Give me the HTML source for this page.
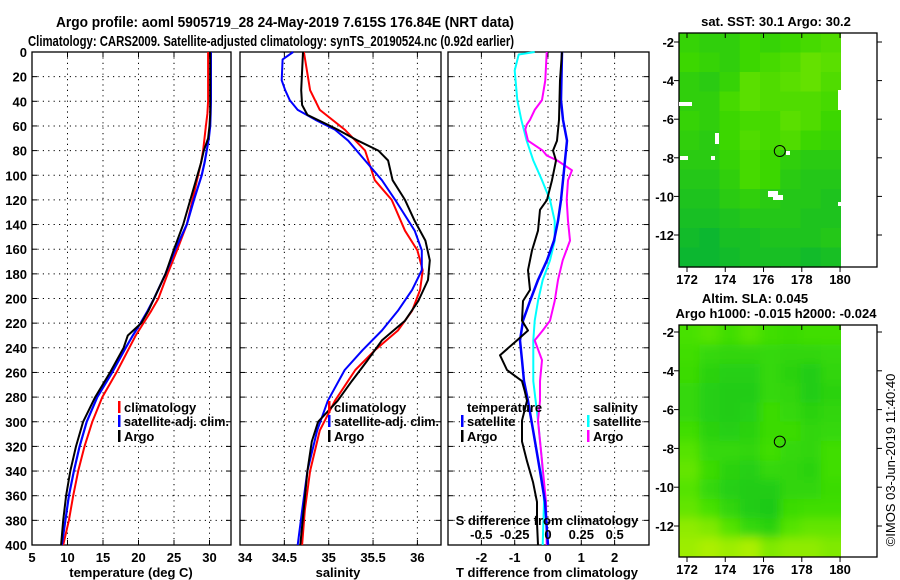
<!DOCTYPE html>
<html><head><meta charset="utf-8">
<style>
html,body{margin:0;padding:0;background:#fff;}
svg{display:block;font-family:"Liberation Sans",Arial,sans-serif;font-weight:bold;}
</style></head>
<body>
<svg id="fig" width="900" height="580" viewBox="0 0 900 580" xmlns="http://www.w3.org/2000/svg">
<text x="285" y="27" font-size="14.5" text-anchor="middle" textLength="458" lengthAdjust="spacingAndGlyphs">Argo profile: aoml 5905719_28 24-May-2019 7.615S 176.84E (NRT data)</text>
<text x="271" y="46" font-size="15" text-anchor="middle" textLength="486" lengthAdjust="spacingAndGlyphs">Climatology: CARS2009. Satellite-adjusted climatology: synTS_20190524.nc (0.92d earlier)</text>
<g id="maps"></g>
<g id="panels"></g>
</svg>
<script>
// ---------- data ----------
const tDepths = [0,10,20,30,40,50,60,70,80,90,100,120,140,160,180,200,210,220,230,240,260,280,300,320,340,360,380,400];
const tempClim = [29.8,29.8,29.8,29.8,29.8,29.7,29.5,29.3,29.1,28.8,28.4,27.6,26.8,25.5,24.1,22.8,21.8,20.7,19.6,18.7,16.9,14.9,13.5,12.4,11.5,10.8,10.2,9.4];
const tempSat = [30.2,30.2,30.2,30.2,30.2,30.15,30.1,29.9,29.6,29.3,28.9,27.8,26.8,25.2,23.8,22.2,21.3,20.3,19.2,18.2,16.3,14.2,12.7,11.7,10.9,10.2,9.7,9.2];
const tempArgo = [30.1,30.1,30.1,30.1,30.1,30.1,30.0,29.8,29.2,28.8,28.3,27.3,26.3,25.0,23.8,22.2,21.4,20.4,18.5,17.9,16.0,13.9,12.2,11.2,10.4,9.8,9.4,9.1];

const sClimDepths = [0,31,47,63,80,104,120,145,161,177,193,210,226,242,258,283,307,340,372,400];
const salClim = [34.72,34.79,34.90,35.18,35.41,35.52,35.71,35.86,36.0,36.06,36.03,35.94,35.78,35.52,35.30,35.07,34.90,34.79,34.73,34.70];
const sSatDepths = [0,6,23,31,39,47,55,63,72,88,104,120,145,161,177,193,210,226,242,258,283,307,340,372,400];
const salSat = [34.6,34.48,34.47,34.51,34.56,34.65,34.85,35.07,35.22,35.41,35.60,35.75,35.97,36.05,36.05,35.94,35.78,35.60,35.38,35.18,34.99,34.87,34.76,34.70,34.65];
const sArgoDepths = [0,31,43,51,58,63,72,80,88,104,120,137,153,169,185,202,218,234,250,267,283,300,316,340,400];
const salArgo = [34.71,34.69,34.70,34.76,34.96,35.1,35.33,35.56,35.67,35.72,35.86,35.97,36.09,36.14,36.12,36.01,35.86,35.6,35.44,35.26,35.10,34.88,34.81,34.76,34.68];

const dTSatDepths = [0,39,55,72,80,104,120,137,153,169,185,202,218,234,250,267,283,316,340,365,389,400];
const dTSat = [0.42,0.39,0.45,0.57,0.54,0.45,0.39,0.3,0.18,-0.03,-0.3,-0.54,-0.75,-0.84,-0.78,-0.72,-0.6,-0.39,-0.24,-0.09,-0.03,0];
const dTArgoDepths = [0,23,55,72,80,88,104,120,128,145,161,177,193,202,218,226,234,246,258,267,275,283,299,316,332,349,365,382,400];
const dTArgo = [0.42,0.36,0.33,0.27,0.15,0.24,0.12,-0.03,-0.24,-0.3,-0.48,-0.6,-0.54,-0.75,-0.78,-0.6,-0.93,-1.44,-1.23,-0.78,-0.7,-0.63,-0.78,-0.78,-0.63,-0.45,-0.33,-0.33,-0.3];
const dSSatDepths = [0,2,15,39,55,72,88,104,120,137,153,169,185,202,218,234,267,299,332,365,400];
const dSSat = [-0.1,-0.22,-0.25,-0.23,-0.2,-0.16,-0.11,-0.045,0.015,0.05,0.05,0.015,-0.04,-0.075,-0.1,-0.11,-0.11,-0.075,-0.045,-0.03,-0.04];
const dSArgoDepths = [0,23,39,47,55,59,63,72,80,84,88,96,104,120,137,153,169,185,202,218,226,234,250,267,283,299,332,365,400];
const dSArgo = [-0.01,-0.02,-0.045,-0.1,-0.135,-0.16,-0.17,-0.15,-0.04,-0.01,0.07,0.18,0.15,0.14,0.15,0.165,0.11,0.075,0.05,0.015,-0.04,-0.1,-0.045,-0.06,-0.06,-0.075,-0.045,-0.015,-0.01];

const depthTicks = [0,20,40,60,80,100,120,140,160,180,200,220,240,260,280,300,320,340,360,380,400];
const tempTicks = [5,10,15,20,25,30];
const salTicks = [34.5,35,35.5,36];
const salTickLabels = ["34","34.5","35","35.5","36"];
const dTTicks = [-2,-1,0,1,2];
const dSTickLabels = ["-0.5","-0.25","0","0.25","0.5"];
const dSTicks = [-0.5,-0.25,0,0.25,0.5];

const sstGrid = [
[.45,.4,.4,.5,.45,.5,.55,.6],
[.5,.45,.4,.5,.55,.6,.7,.65],
[.4,.35,.45,.65,.6,.65,.7,.6],
[.4,.4,.55,.65,.6,.6,.6,.55],
[.45,.4,.5,.55,.55,.65,.6,.5],
[.4,.35,.5,.6,.55,.6,.5,.45],
[.35,.35,.45,.55,.5,.4,.35,.35],
[.3,.3,.4,.55,.5,.35,.3,.3],
[.25,.25,.35,.4,.35,.3,.3,.25],
[.2,.2,.25,.3,.3,.3,.25,.25],
[.15,.1,.2,.2,.25,.25,.25,.3],
[.1,.1,.15,.2,.2,.2,.15,.2]];
const slaGrid = [
[.5,.55,.45,.55,.45,.4,.45,.45],
[.45,.35,.3,.3,.35,.3,.3,.35],
[.4,.25,.2,.2,.35,.25,.15,.3],
[.35,.2,.15,.15,.35,.3,.15,.25],
[.35,.2,.15,.2,.4,.35,.25,.3],
[.45,.25,.2,.25,.4,.4,.3,.35],
[.55,.35,.35,.3,.45,.35,.3,.45],
[.6,.4,.25,.2,.35,.3,.25,.45],
[.55,.35,.2,.15,.15,.3,.3,.4],
[.6,.5,.3,.15,.1,.4,.45,.45],
[.75,.7,.55,.35,.25,.55,.6,.6],
[.8,.85,.8,.85,.7,.75,.75,.7]];
const lonTicks = [172,174,176,178,180];
const latTicks = [-2,-4,-6,-8,-10,-12];
const floatLon = 176.85, floatLat = -7.65;

// ---------- helpers ----------
const NS = "http://www.w3.org/2000/svg";
function mk(tag, attrs, parent){ const e=document.createElementNS(NS,tag); for(const k in attrs) e.setAttribute(k,attrs[k]); parent.appendChild(e); return e; }
const P = document.getElementById('panels');
const M = document.getElementById('maps');
const yD = d => 52 + d*1.2325;
const Y0=52, Y1=545;

function frame(x0,x1,name){
  for(const d of depthTicks.slice(1,-1)){
    const l=mk('line',{x1:x0,x2:x1,y1:yD(d),y2:yD(d),stroke:'#000','stroke-width':1,'stroke-dasharray':'1.2,4.2'},P);
    
    
    mk('line',{x1:x0,x2:x0+5,y1:yD(d),y2:yD(d),stroke:'#000'},P);
    mk('line',{x1:x1-5,x2:x1,y1:yD(d),y2:yD(d),stroke:'#000'},P);
  }
  const r=mk('rect',{x:x0,y:Y0,width:x1-x0,height:Y1-Y0,fill:'none',stroke:'#000','stroke-width':1.3},P);
  
  
}
function vgrid(xs){
  for(const x of xs){
    mk('line',{x1:x,x2:x,y1:Y0,y2:Y1,stroke:'#000','stroke-width':1,'stroke-dasharray':'1.2,4.2'},P);
    mk('line',{x1:x,x2:x,y1:Y0,y2:Y0+5,stroke:'#000'},P);
    mk('line',{x1:x,x2:x,y1:Y1-5,y2:Y1,stroke:'#000'},P);
  }
}
function line(depths, vals, xf, color, w, name){
  const pts = depths.map((d,i)=>xf(vals[i]).toFixed(1)+','+yD(d).toFixed(1)).join(' ');
  const p=mk('polyline',{points:pts,fill:'none',stroke:color,'stroke-width':w,'stroke-linejoin':'round'},P);
  
  
}
function txt(x,y,s,size,anchor,name,parent){
  const t=mk('text',{x:x,y:y,'font-size':size,'text-anchor':anchor||'middle'},parent||P);
  t.textContent=s;
  
  
  return t;
}
function legend(x,y,color,label,name,len){
  mk('rect',{x:x,y:y-11,width:2.5,height:12,fill:color},P);
  const t=txt(x+6,y,label,13,'start',name);
  if(len){ t.setAttribute('textLength',len); t.setAttribute('lengthAdjust','spacingAndGlyphs'); }
}

// ---------- panel 1: temperature ----------
const xT = v => 32 + (v-5)*7.1;
frame(32,231,'temperature-panel');
vgrid(tempTicks.slice(1).map(xT));
line(tDepths,tempClim,xT,'#ff0000',2,'temp-climatology-line');
line(tDepths,tempSat,xT,'#0000ff',2.2,'temp-satellite-line');
line(tDepths,tempArgo,xT,'#000000',2,'temp-argo-line');
for(const d of depthTicks){ txt(27,yD(d)+5,String(d),13,'end','depth-tick-label'); }
for(const v of tempTicks){ txt(xT(v),562,String(v),13,'middle','temp-tick-label'); }
txt(131,577,'temperature (deg C)',13,'middle','temp-axis-title');
legend(118,412,'#ff0000','climatology','legend-climatology');
legend(118,426,'#0000ff','satellite-adj. clim.','legend-satellite',105);
legend(118,441,'#000000','Argo','legend-argo');

// ---------- panel 2: salinity ----------
const xS = v => 240 + (v-34)*88.7;
frame(240,441,'salinity-panel');
vgrid(salTicks.map(xS));
line(sClimDepths,salClim,xS,'#ff0000',2,'sal-climatology-line');
line(sSatDepths,salSat,xS,'#0000ff',2,'sal-satellite-line');
line(sArgoDepths,salArgo,xS,'#000000',2,'sal-argo-line');
[34].concat(salTicks).forEach((v,i)=>txt(i===0?245:xS(v),562,salTickLabels[i],13,'middle','sal-tick-label'));
txt(338,577,'salinity',13,'middle','sal-axis-title');
legend(328,412,'#ff0000','climatology','legend-climatology-2');
legend(328,426,'#0000ff','satellite-adj. clim.','legend-satellite-2',105);
legend(328,441,'#000000','Argo','legend-argo-2');

// ---------- panel 3: differences ----------
const xDT = v => 548 + v*33.3;
const xDS = v => 548 + v*133.3;
frame(448,649,'difference-panel');
vgrid(dTTicks.map(xDT));
line(dSSatDepths,dSSat,xDS,'#00ffff',2,'sal-diff-satellite-line');
line(dSArgoDepths,dSArgo,xDS,'#ff00ff',2,'sal-diff-argo-line');
line(dTSatDepths,dTSat,xDT,'#0000ff',2.5,'temp-diff-satellite-line');
line(dTArgoDepths,dTArgo,xDT,'#000000',2,'temp-diff-argo-line');
dTTicks.forEach(v=>txt(xDT(v),562,String(v),13,'middle','tdiff-tick-label'));
txt(547,577,'T difference from climatology',13,'middle','tdiff-axis-title');
dSTicks.forEach((v,i)=>txt(xDS(v),539,dSTickLabels[i],13,'middle','sdiff-tick-label'));
txt(547,525,'S difference from climatology',13,'middle','sdiff-axis-title');
txt(467,412,'temperature',13,'start','legend-temperature-header');
legend(461,426,'#0000ff','satellite','legend-tdiff-satellite');
legend(461,441,'#000000','Argo','legend-tdiff-argo');
txt(593,412,'salinity',13,'start','legend-salinity-header');
legend(587,426,'#00ffff','satellite','legend-sdiff-satellite');
legend(587,441,'#ff00ff','Argo','legend-sdiff-argo');

// ---------- maps ----------
function lerp(a,b,t){return a.map((v,i)=>Math.round(v+(b[i]-v)*t));}
function col(v,lo,mid,hi){ const c = v<0.5? lerp(lo,mid,v/0.5) : lerp(mid,hi,(v-0.5)/0.5); return 'rgb('+c.join(',')+')'; }
function drawMap(grid, top, bottom, lat2y, name, lo, mid, hi, blur){
  const x0=679, xData=841, x1=877;
  const g=mk('g',{},M);
  
  
  const nr=grid.length, nc=grid[0].length;
  const cw=(xData-x0)/nc, ch=(bottom-top)/nr;
  const outer=mk('g',blur?{'clip-path':'url(#clip2)'}:{},g);
  const cg=mk('g',blur?{filter:'url(#bl)'}:{},outer);
  const ext=blur?20:0;
  grid.forEach((row,r)=>row.forEach((v,c)=>{
    let x=x0+c*cw, y=top+r*ch, w=cw+0.6, h=ch+0.6;
    if(c===0){x-=ext;w+=ext;} if(c===nc-1){w+=ext;}
    if(r===0){y-=ext;h+=ext;} if(r===nr-1){h+=ext;}
    mk('rect',{x:x,y:y,width:w,height:h,fill:col(v,lo,mid,hi)},cg);
  }));
  mk('rect',{x:xData,y:top,width:x1-xData,height:bottom-top,fill:'#fff'},g);
  const lon2x = l => 687 + (l-172)*19.13;
  for(const l of lonTicks){ const x=lon2x(l);
    mk('line',{x1:x,x2:x,y1:top,y2:top+5,stroke:'#000'},g);
    mk('line',{x1:x,x2:x,y1:bottom,y2:bottom+5,stroke:'#000'},g);
    txt(x,bottom+17,String(l),13,'middle','lon-tick-label',g); }
  for(const la of latTicks){ const y=lat2y(la);
    mk('line',{x1:x0-5,x2:x0,y1:y,y2:y,stroke:'#000'},g);
    mk('line',{x1:x1,x2:x1+5,y1:y,y2:y,stroke:'#000'},g);
    txt(674,y+5,String(la),13,'end','lat-tick-label',g); }
  mk('rect',{x:x0,y:top,width:x1-x0,height:bottom-top,fill:'none',stroke:'#000','stroke-width':1.3},g);
  const c=mk('circle',{cx:lon2x(floatLon),cy:lat2y(floatLat),r:5.5,fill:'none',stroke:'#000','stroke-width':1},g);
  
  
  return g;
}
const defs=mk('defs',{},M);
const f=mk('filter',{id:'bl',x:'-0.3',y:'-0.3',width:'1.6',height:'1.6'},defs);
mk('feGaussianBlur',{stdDeviation:'5'},f);
const cp=mk('clipPath',{id:'clip2'},defs);
mk('rect',{x:679,y:325,width:162,height:232},cp);
const g1=drawMap(sstGrid,33,267,la=>42+(-2-la)*19.3,'sst-map',[0,175,60],[60,215,0],[160,240,0],false);
[[679,102,13,4],[715,133,4,11],[680,156,8,4],[711,156,4,4],[768,191,10,6],[773,195,10,5],[786,151,4,4],[838,90,3,20],[838,202,3,4]].forEach(a=>mk('rect',{x:a[0],y:a[1],width:a[2],height:a[3],fill:'#fff'},g1));
drawMap(slaGrid,325,557,la=>332+(-2-la)*19.4,'sla-map',[15,195,30],[70,225,0],[215,245,0],true);
txt(776,26,'sat. SST: 30.1 Argo: 30.2',13,'middle','sst-map-title',M);
txt(755,303,'Altim. SLA: 0.045',13,'middle','sla-map-title',M);
txt(776,318,'Argo h1000: -0.015 h2000: -0.024',13,'middle','argo-height-title',M);
const cr=txt(0,0,'©IMOS 03-Jun-2019 11:40:40',13,'middle','imos-credit',M);
cr.setAttribute('font-weight','normal');
cr.setAttribute('transform','translate(895,460) rotate(-90)');
</script>
</body></html>
